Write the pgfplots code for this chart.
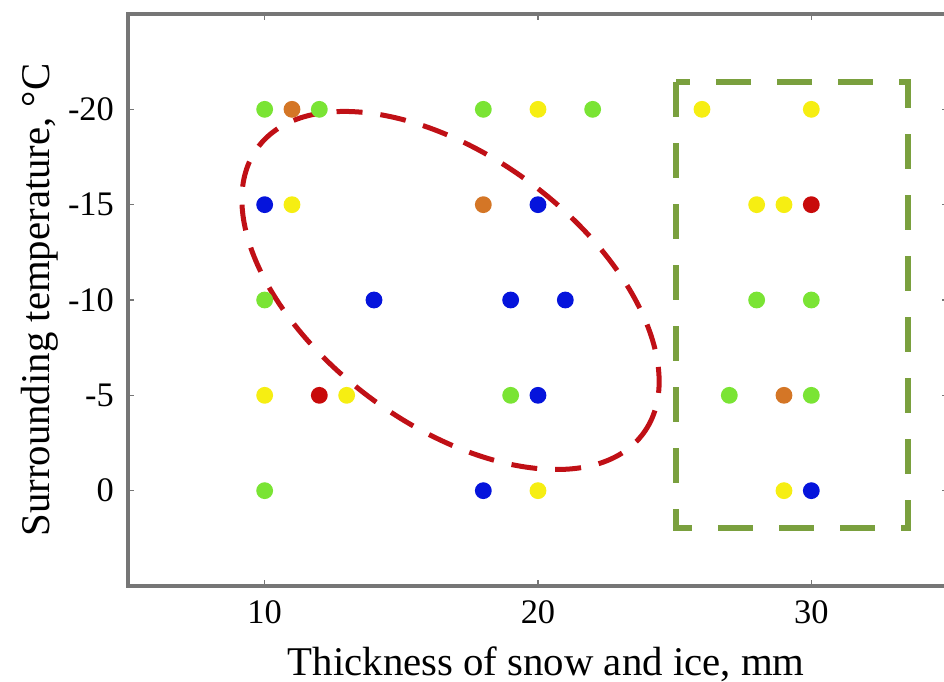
\documentclass[border=0pt]{standalone}
\usepackage{fontspec}
\setmainfont{Liberation Serif}
\usepackage{pgfplots}
\pgfplotsset{compat=1.18}
\definecolor{cgreen}{RGB}{122,228,52}
\definecolor{cyellow}{RGB}{246,238,18}
\definecolor{corange}{RGB}{212,118,38}
\definecolor{cred}{RGB}{200,10,10}
\definecolor{cblue}{RGB}{5,20,220}
\definecolor{ellred}{RGB}{192,16,22}
\definecolor{boxgreen}{RGB}{122,160,62}
\definecolor{axgray}{RGB}{118,118,118}
\pgfplotsset{dot/.style={only marks, mark=*, mark size=1.9pt, draw=#1, fill=#1, mark options={draw=#1, fill=#1}}}
\begin{document}
\begin{tikzpicture}
\useasboundingbox (-32pt,-24pt) rectangle (204pt,146.5pt);
\begin{axis}[
  at={(0,0)}, anchor=south west,
  scale only axis, width=205pt, height=143pt,
  xmin=5, xmax=35, ymin=-25, ymax=5, y dir=reverse,
  xtick={10,20,30}, xticklabels={10,20,30},
  ytick={-20,-15,-10,-5,0}, yticklabels={-20,-15,-10,-5,0},
  tick align=inside, major tick length=1.5pt,
  tick style={axgray, line width=0.4pt},
  axis line style={axgray, line width=1pt},
  ticklabel style={font=\fontsize{8.6}{10}\selectfont},
  xlabel={Thickness of snow and ice, mm},
  ylabel={Surrounding temperature, \textdegree C},
  label style={font=\fontsize{10.2}{12}\selectfont},
  xlabel style={at={(axis description cs:0.51,-0.136)}, anchor=center},
  ylabel style={at={(axis description cs:-0.108,0.5)}, anchor=center},
]
\addplot[dot=cgreen] coordinates {
(10,-20) (12,-20) (18,-20) (22,-20) (10,-10) (28,-10) (30,-10) (19,-5) (27,-5) (30,-5) (10,0)};
\addplot[dot=corange] coordinates {
(11,-20) (18,-15) (29,-5)};
\addplot[dot=cyellow] coordinates {
(20,-20) (26,-20) (30,-20) (11,-15) (28,-15) (29,-15) (10,-5) (13,-5) (20,0) (29,0)};
\addplot[dot=cblue] coordinates {
(10,-15) (20,-15) (14,-10) (19,-10) (21,-10) (20,-5) (18,0) (30,0)};
\addplot[dot=cred] coordinates {
(30,-15) (12,-5)};
\draw[ellred, line width=1.25pt, dash pattern=on 6.5pt off 4.5pt]
  (axis cs:16.8,-10.5) circle [x radius=60pt, y radius=33.5pt, rotate=-36.6];
\draw[boxgreen, line width=1.5pt, dash pattern=on 8.75pt off 6.5pt]
  (axis cs:25.05,-21.43) rectangle (axis cs:33.54,1.95);
\end{axis}
\end{tikzpicture}
\end{document}
